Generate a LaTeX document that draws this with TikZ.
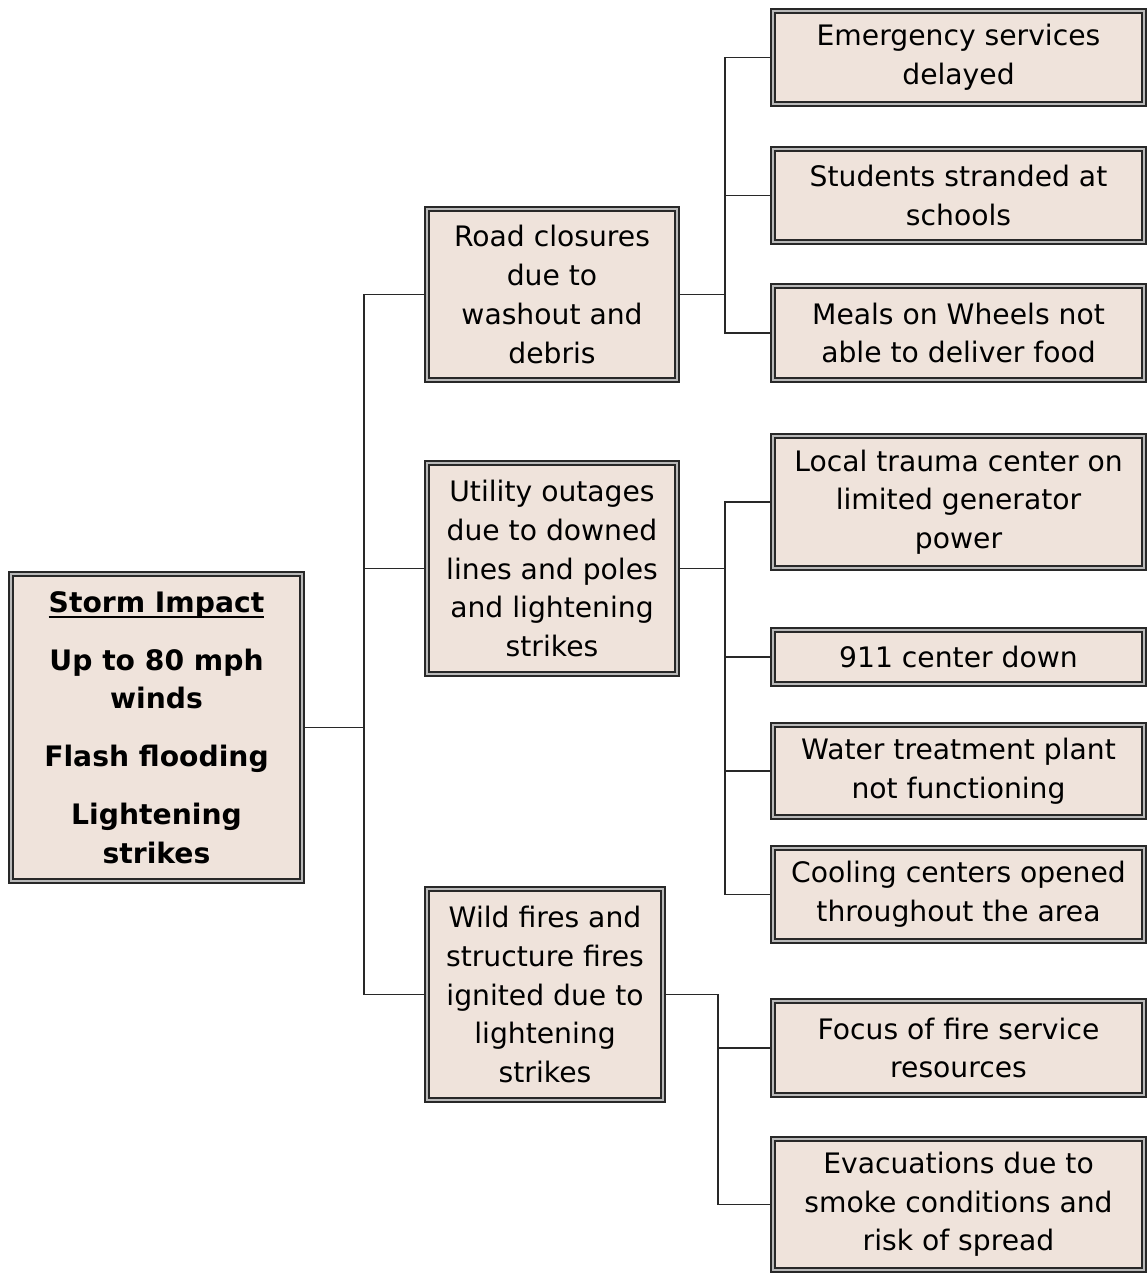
\documentclass[tikz,border=0pt]{standalone}
\usepackage{fontspec}
\setmainfont{DejaVu Sans}
\usetikzlibrary{backgrounds}
\definecolor{boxfill}{RGB}{239,227,219}
\definecolor{edge}{RGB}{40,40,40}
\newcommand\myul[1]{\setbox0\hbox{#1}\rlap{\rule[-5.5pt]{\wd0}{2.4pt}}\box0}
\begin{document}
\begin{tikzpicture}[x=1pt,y=-1pt,
  box/.style={draw=edge, double=gray!55, line width=1.6pt, double distance=2.5pt,
    fill=boxfill, align=center, inner sep=0pt, text=black,
    font=\fontsize{28.2}{38.7}\selectfont},
  conn/.style={draw=edge, line width=1.3pt}]
\useasboundingbox (0,0) rectangle (1147,1273);
% root
\node[box, minimum width=291.3pt, minimum height=307.3pt,
  font=\bfseries\fontsize{28.2}{38.7}\selectfont] (root) at (156.5,727.5)
  {\myul{Storm Impact}\\[19pt]Up to 80 mph\\winds\\[19pt]Flash flooding\\[19pt]Lightening\\strikes};
% middle column
\node[box, minimum width=250.3pt, minimum height=171.3pt] (road) at (552,294.5)
  {Road closures\\due to\\washout and\\debris};
\node[box, minimum width=250.3pt, minimum height=211.3pt] (util) at (552,568.5)
  {Utility outages\\due to downed\\lines and poles\\and lightening\\strikes};
\node[box, minimum width=236.3pt, minimum height=211.3pt] (wild) at (545,994.5)
  {Wild fires and\\structure fires\\ignited due to\\lightening\\strikes};
% right column
\node[box, minimum width=371.3pt, minimum height=93.3pt] (emer) at (958.5,57.5)
  {Emergency services\\delayed};
\node[box, minimum width=371.3pt, minimum height=93.3pt] (stud) at (958.5,195.5)
  {Students stranded at\\schools};
\node[box, minimum width=371.3pt, minimum height=94.3pt] (meal) at (958.5,333)
  {Meals on Wheels not\\able to deliver food};
\node[box, minimum width=371.3pt, minimum height=132.3pt] (trauma) at (958.5,502)
  {Local trauma center on\\limited generator\\power};
\node[box, minimum width=371.3pt, minimum height=54.3pt] (nine) at (958.5,657)
  {911 center down};
\node[box, minimum width=371.3pt, minimum height=92.3pt] (water) at (958.5,771)
  {Water treatment plant\\not functioning};
\node[box, minimum width=371.3pt, minimum height=93.3pt] (cool) at (958.5,894.5)
  {Cooling centers opened\\throughout the area};
\node[box, minimum width=371.3pt, minimum height=94.3pt] (focus) at (958.5,1048)
  {Focus of fire service\\resources};
\node[box, minimum width=371.3pt, minimum height=131.3pt] (evac) at (958.5,1204.5)
  {Evacuations due to\\smoke conditions and\\risk of spread};
% bus points
\coordinate (b1) at (364,727.5);
\coordinate (b2) at (725,294.5);
\coordinate (b3) at (725,568.5);
\coordinate (b4) at (718,994.5);
\begin{scope}[on background layer]
\draw[conn] (root.east) -- (b1) |- (road.west);
\draw[conn] (b1) |- (util.west);
\draw[conn] (b1) |- (wild.west);
\draw[conn] (road.east) -- (b2) |- (emer.west);
\draw[conn] (b2) |- (stud.west);
\draw[conn] (b2) |- (meal.west);
\draw[conn] (util.east) -- (b3) |- (trauma.west);
\draw[conn] (b3) |- (nine.west);
\draw[conn] (b3) |- (water.west);
\draw[conn] (b3) |- (cool.west);
\draw[conn] (wild.east) -- (b4) |- (focus.west);
\draw[conn] (b4) |- (evac.west);
\end{scope}
\end{tikzpicture}
\end{document}
